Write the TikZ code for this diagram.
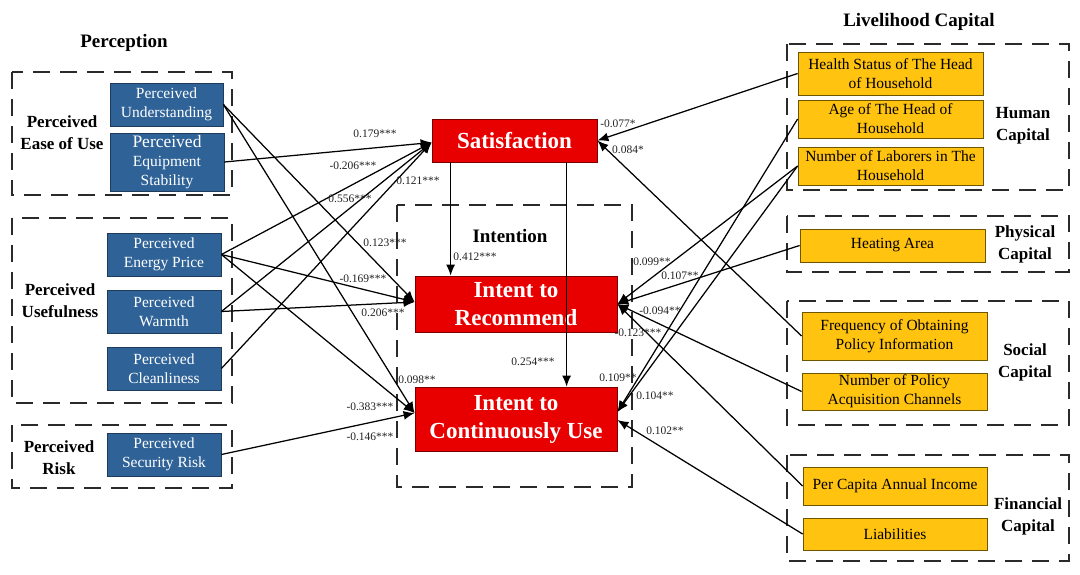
\documentclass[tikz,border=0pt]{standalone}
\usepackage{fontspec}
\setmainfont{Liberation Serif}
\usetikzlibrary{arrows.meta}
\definecolor{pblue}{HTML}{2F6398}
\definecolor{pblueb}{HTML}{1E3B5A}
\definecolor{porange}{HTML}{FFC310}
\definecolor{porangeb}{HTML}{6E5500}
\definecolor{pred}{HTML}{E80000}
\definecolor{predb}{HTML}{7A0000}
\definecolor{dashc}{HTML}{2A2A2A}
\definecolor{labc}{HTML}{222222}
\begin{document}
\begin{tikzpicture}[x=1pt,y=-1pt,
  grp/.style={draw=dashc, line width=1.3pt, dash pattern=on 17pt off 10pt},
  bluebox/.style={draw=pblueb, line width=0.8pt, fill=pblue, text=white, align=center, inner sep=0pt,
    font=\fontsize{15.5}{19}\selectfont},
  orbox/.style={draw=porangeb, line width=0.8pt, fill=porange, text=black, align=center, inner sep=0pt,
    font=\fontsize{15.5}{19}\selectfont},
  redbox/.style={draw=predb, line width=0.8pt, fill=pred, text=white, align=center, inner sep=0pt,
    font=\fontsize{23}{28}\selectfont\bfseries},
  grplab/.style={align=center, inner sep=0pt, font=\fontsize{17}{22}\selectfont\bfseries},
  title/.style={inner sep=0pt, font=\fontsize{19}{23}\selectfont\bfseries},
  coef/.style={inner sep=0pt, text=labc, font=\fontsize{11.5}{13}\selectfont},
  arr/.style={line width=1.25pt, -{Latex[length=11pt,width=9pt]}}
]
\useasboundingbox (0,0) rectangle (1080,574);
\fill[white] (0,0) rectangle (1080,574);

% ---------- group frames ----------
\draw[grp] (12,72) rectangle (232,195);
\draw[grp] (12,218) rectangle (232,403);
\draw[grp] (12,425) rectangle (232,488);
\draw[grp] (397,205) rectangle (632,487);
\draw[grp] (787,44) rectangle (1069,190);
\draw[grp] (787,216) rectangle (1069,272);
\draw[grp] (787,301) rectangle (1069,425);
\draw[grp] (787,455) rectangle (1069,561);

% ---------- titles ----------
\node[title] (tperc) at (124,43) {Perception};
\node[title] (tlive) at (919,22) {Livelihood Capital};
\node[title] (tint) at (510,236) {Intention};

\node[grplab] (gease) at (62,133) {Perceived\\Ease of Use};
\node[grplab] (guse) at (60,301) {Perceived\\Usefulness};
\node[grplab] (grisk) at (59,458) {Perceived\\Risk};
\node[grplab] (ghum) at (1023,126) {Human\\Capital};
\node[grplab] (gphy) at (1025,244) {Physical\\Capital};
\node[grplab] (gsoc) at (1025,362) {Social\\Capital};
\node[grplab] (gfin) at (1028,516) {Financial\\Capital};

% ---------- perception boxes ----------
\node[bluebox, minimum width=113pt, minimum height=43pt] (pu) at (166.5,104.5) {Perceived\\Understanding};
\node[bluebox, minimum width=114pt, minimum height=58pt] (pes) at (167,162) {{\fontsize{17.5}{21}\selectfont Perceived}\\Equipment\\Stability};
\node[bluebox, minimum width=114pt, minimum height=43pt] (pep) at (164,254.5) {Perceived\\Energy Price};
\node[bluebox, minimum width=114pt, minimum height=43pt] (pw) at (164,311.5) {Perceived\\Warmth};
\node[bluebox, minimum width=114pt, minimum height=43pt] (pc) at (164,368.5) {Perceived\\Cleanliness};
\node[bluebox, minimum width=114pt, minimum height=43pt] (psr) at (164,454.5) {Perceived\\Security Risk};

% ---------- outcome boxes ----------
\node[redbox, minimum width=165pt, minimum height=43pt] (sat) at (514.5,140.5) {Satisfaction};
\node[redbox, minimum width=202pt, minimum height=56pt] (ir) at (516,304) {Intent to\\Recommend};
\node[redbox, minimum width=202pt, minimum height=64pt] (icu) at (516,419) {Intent to\\Continuously Use};

% ---------- livelihood boxes ----------
\node[orbox, minimum width=185pt, minimum height=43pt] (health) at (890.5,73.5) {Health Status of The Head\\of Household};
\node[orbox, minimum width=185pt, minimum height=38pt] (age) at (890.5,119) {Age of The Head of\\Household};
\node[orbox, minimum width=185pt, minimum height=38pt] (labor) at (890.5,166) {Number of Laborers in The\\Household};
\node[orbox, minimum width=185pt, minimum height=33pt] (heat) at (892.5,245.5) {Heating Area};
\node[orbox, minimum width=185pt, minimum height=48pt] (freq) at (894.5,336) {Frequency of Obtaining\\Policy Information};
\node[orbox, minimum width=185pt, minimum height=37pt] (npol) at (894.5,391.5) {Number of Policy\\Acquisition Channels};
\node[orbox, minimum width=184pt, minimum height=38pt] (pci) at (895,486) {Per Capita Annual Income};
\node[orbox, minimum width=184pt, minimum height=32pt] (liab) at (895,534) {Liabilities};

% ---------- paths: perception ----------
\draw[arr] (pes.east) -- ([yshift=-2pt]sat.west);
\draw[arr] (pep.east) -- ([yshift=-2pt]sat.west);
\draw[arr] (pw.east) -- ([yshift=-2pt]sat.west);
\draw[arr] (pc.east) -- ([yshift=-2pt]sat.west);
\draw[arr] (pu.east) -- ([yshift=2pt]ir.west);
\draw[arr] (pep.east) -- ([yshift=2pt]ir.west);
\draw[arr] (pw.east) -- ([yshift=2pt]ir.west);
\draw[arr] (pu.east) -- ([yshift=6pt]icu.west);
\draw[arr] (pep.east) -- ([yshift=6pt]icu.west);
\draw[arr] (psr.east) -- ([yshift=6pt]icu.west);

% ---------- paths: satisfaction to intentions ----------
\draw[arr] ([xshift=19pt]sat.south west) -- ([xshift=19pt]sat.south west |- ir.north);
\draw[arr] ([xshift=135pt]sat.south west) -- ([xshift=135pt]sat.south west |- icu.north);

% ---------- paths: livelihood capital ----------
\draw[arr] (health.west) -- (sat.east);
\draw[arr] (freq.west) -- (sat.east);
\draw[arr] (labor.west) -- (ir.east);
\draw[arr] (heat.west) -- (ir.east);
\draw[arr] (npol.west) -- (ir.east);
\draw[arr] (pci.west) -- (ir.east);
\draw[arr] (age.west) -- ([yshift=7pt]icu.east);
\draw[arr] (labor.west) -- ([yshift=7pt]icu.east);
\draw[arr] (liab.west) -- ([yshift=-1pt]icu.east);

% ---------- coefficients ----------
\node[coef] (c1) at (375,134) {0.179***};
\node[coef] (c2) at (353,166) {-0.206***};
\node[coef] (c3) at (350,199) {0.556***};
\node[coef] (c4) at (418,181) {0.121***};
\node[coef] (c5) at (385,243) {0.123***};
\node[coef] (c6) at (363,279) {-0.169***};
\node[coef] (c7) at (383,313) {0.206***};
\node[coef] (c8) at (417,380) {0.098**};
\node[coef] (c9) at (370,407) {-0.383***};
\node[coef] (c10) at (370,437) {-0.146***};
\node[coef] (c11) at (475,257) {0.412***};
\node[coef] (c12) at (533,362) {0.254***};
\node[coef] (c13) at (618,124) {-0.077*};
\node[coef] (c14) at (628,150) {0.084*};
\node[coef] (c15) at (652,262) {0.099**};
\node[coef] (c16) at (680,276) {0.107**};
\node[coef] (c17) at (660,311) {-0.094**};
\node[coef] (c18) at (638,333) {-0.123***};
\node[coef] (c19) at (618,378) {0.109**};
\node[coef] (c20) at (655,396) {0.104**};
\node[coef] (c21) at (665,431) {0.102**};
\end{tikzpicture}
\end{document}
